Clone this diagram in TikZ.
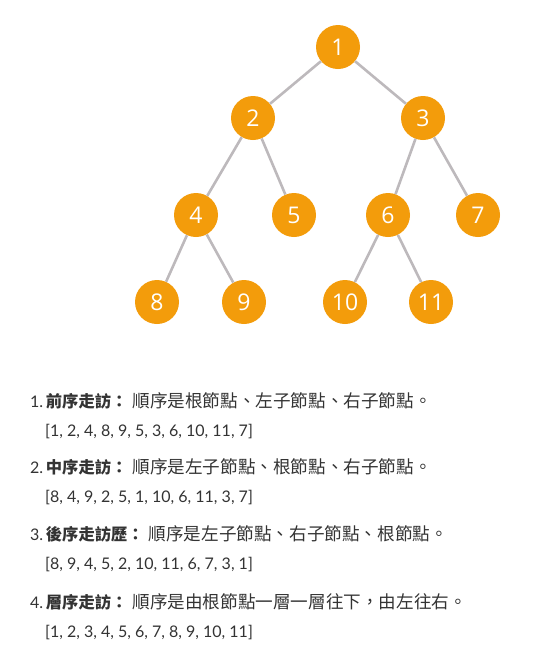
\documentclass[tikz,border=0pt]{standalone}
\usepackage{fontspec}
\setmainfont{Lato}
\newfontfamily\numfont{Open Sans}
\newfontfamily\zhfont{Noto Sans CJK TC}
\newcommand\zhlabel[1]{{\zhfont\fontsize{16.3}{17}\selectfont\bfseries #1}\hspace{5pt}}
\newcommand\zhbody[1]{{\zhfont\fontsize{17.6}{17}\selectfont #1}}
\usetikzlibrary{positioning}
\definecolor{nodeorange}{HTML}{F39C0B}
\definecolor{edgegray}{HTML}{BDB9BC}
\definecolor{txtgray}{HTML}{333333}

\begin{document}
\begin{tikzpicture}[
  x=1pt, y=-1pt,
  tnode/.style={circle, fill=nodeorange, minimum size=44pt, inner sep=0pt,
    text=white, font=\numfont\fontsize{23}{23}\selectfont},
  edge/.style={draw=edgegray, line width=2.6pt},
  item/.style={anchor=base west, inner sep=0pt, text=txtgray,
    font=\fontsize{16}{16}\selectfont},
  node distance=0mm
]
\useasboundingbox (0,0) rectangle (552,657);

%% Tree nodes
\node[tnode] (n1)  at (338,  47) {1};
\node[tnode] (n2)  at (253, 118) {2};
\node[tnode] (n3)  at (423, 118) {3};
\node[tnode] (n4)  at (196, 215) {4};
\node[tnode] (n5)  at (294, 215) {5};
\node[tnode] (n6)  at (388, 215) {6};
\node[tnode] (n7)  at (478, 215) {7};
\node[tnode] (n8)  at (157, 302) {8};
\node[tnode] (n9)  at (244, 302) {9};
\node[tnode] (n10) at (345, 302) {10};
\node[tnode] (n11) at (431, 302) {11};

%% Edges
\draw[edge] (n1)--(n2);
\draw[edge] (n1)--(n3);
\draw[edge] (n2)--(n4);
\draw[edge] (n2)--(n5);
\draw[edge] (n3)--(n6);
\draw[edge] (n3)--(n7);
\draw[edge] (n4)--(n8);
\draw[edge] (n4)--(n9);
\draw[edge] (n6)--(n10);
\draw[edge] (n6)--(n11);

%% Traversal list
\node[item] (l1) at (30, 407) {1.\,\zhlabel{前序走訪：}\zhbody{順序是根節點、左子節點、右子節點。}};
\node[item] (s1) at (45, 436) {[1, 2, 4, 8, 9, 5, 3, 6, 10, 11, 7]};
\node[item] (l2) at (30, 473) {2.\,\zhlabel{中序走訪：}\zhbody{順序是左子節點、根節點、右子節點。}};
\node[item] (s2) at (45, 502) {[8, 4, 9, 2, 5, 1, 10, 6, 11, 3, 7]};
\node[item] (l3) at (30, 540) {3.\,\zhlabel{後序走訪歷：}\zhbody{順序是左子節點、右子節點、根節點。}};
\node[item] (s3) at (45, 569) {[8, 9, 4, 5, 2, 10, 11, 6, 7, 3, 1]};
\node[item] (l4) at (30, 608) {4.\,\zhlabel{層序走訪：}\zhbody{順序是由根節點一層一層往下，由左往右。}};
\node[item] (s4) at (45, 637) {[1, 2, 3, 4, 5, 6, 7, 8, 9, 10, 11]};
\end{tikzpicture}
\end{document}
